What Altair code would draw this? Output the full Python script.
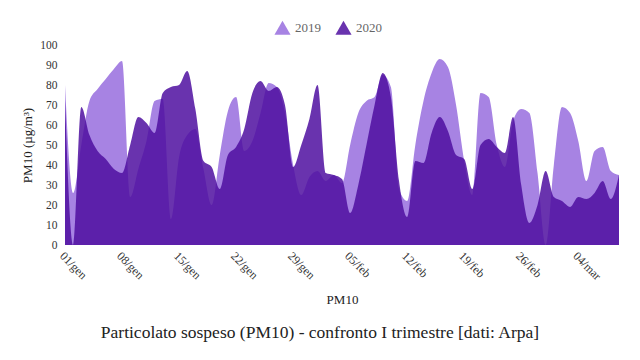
import altair as alt
import pandas as pd

series_names = ["2019", "2020"]
vals_2019 = [80, 26, 50, 72, 78, 83, 88, 92, 24, 38,
             52, 72, 73, 13, 44, 55, 58, 38, 20, 45,
             67, 74, 47, 52, 66, 81, 79, 66, 40, 25,
             34, 37, 32, 35, 31, 50, 66, 72, 74, 85,
             79, 28, 22, 50, 72, 86, 93, 89, 70, 42,
             25, 76, 74, 50, 39, 62, 68, 66, 36, 0,
             40, 69, 66, 52, 32, 47, 49, 37, 35]
vals_2020 = [72, 0, 69, 55, 47, 43, 38, 36, 50, 64,
             61, 56, 76, 79, 80, 87, 68, 42, 39, 28,
             45, 49, 58, 76, 82, 77, 79, 70, 39, 50,
             63, 80, 36, 35, 33, 16, 30, 50, 70, 86,
             74, 32, 14, 42, 41, 56, 64, 57, 45, 43,
             28, 50, 53, 49, 46, 64, 30, 11, 20, 37,
             24, 22, 19, 24, 23, 26, 32, 23, 35]
tick_days = [0, 7, 14, 21, 28, 35, 42, 49, 56, 63]
tick_labels = ["01/gen", "08/gen", "15/gen", "22/gen", "29/gen",
               "05/feb", "12/feb", "19/feb", "26/feb", "04/mar"]

rows = []
for name, vals in zip(series_names, [vals_2019, vals_2020]):
    for d, v in enumerate(vals):
        rows.append({"day": d, "anno": name, "pm10": v})
df = pd.DataFrame(rows)

label_expr = "[" + ",".join("'%s'" % t for t in tick_labels) + "][round(datum.value/7)]"
FONT = "Liberation Serif"

chart = alt.Chart(df).mark_area(interpolate="monotone", line=False).encode(
    x=alt.X("day:Q",
            scale=alt.Scale(domain=[0, len(vals_2019) - 1], nice=False, zero=False),
            axis=alt.Axis(values=tick_days, labelExpr=label_expr, labelAngle=45,
                          labelAlign="left", labelBaseline="top", ticks=False,
                          domain=False, grid=False, labelFont=FONT, labelFontSize=12,
                          labelColor="#333", labelPadding=5,
                          title="PM10", titleFont=FONT, titleFontSize=13,
                          titleFontWeight="normal", titleColor="#222", titlePadding=12)),
    y=alt.Y("pm10:Q", stack=None,
            scale=alt.Scale(domain=[0, 100], nice=False),
            axis=alt.Axis(values=list(range(0, 101, 10)), ticks=False, domain=False,
                          grid=False, labelFont=FONT, labelFontSize=11.5, labelColor="#333",
                          labelPadding=8,
                          title="PM10 (µg/m³)", titleFont=FONT, titleFontSize=13,
                          titleFontWeight="normal", titleColor="#222", titlePadding=5)),
    color=alt.Color("anno:N",
                    scale=alt.Scale(domain=series_names, range=["#a783e3", "#4f0fa0"]),
                    legend=alt.Legend(orient="none", legendX=209, legendY=-26,
                                      direction="horizontal", title=None,
                                      symbolType="triangle-up", symbolSize=260,
                                      symbolOpacity=0.85, symbolStrokeWidth=0,
                                      labelFont=FONT, labelFontSize=13, labelColor="#666",
                                      columnPadding=14)),
    opacity=alt.Opacity("anno:N",
                        scale=alt.Scale(domain=series_names, range=[1.0, 0.85]),
                        legend=None),
    order=alt.Order("anno:N"),
).properties(
    width=554,
    height=200,
    autosize=alt.AutoSizeParams(type="none"),
    padding={"left": 57, "top": 37, "right": 13, "bottom": 107},
    title=alt.TitleParams("Particolato sospeso (PM10) - confronto I trimestre [dati: Arpa]",
                          orient="bottom", anchor="middle", font=FONT, fontSize=17.5,
                          fontWeight="normal", color="#222", offset=17, dx=-22),
).configure_view(stroke=None)

chart.save("out.html", embed_options={"renderer": "svg", "actions": False})
